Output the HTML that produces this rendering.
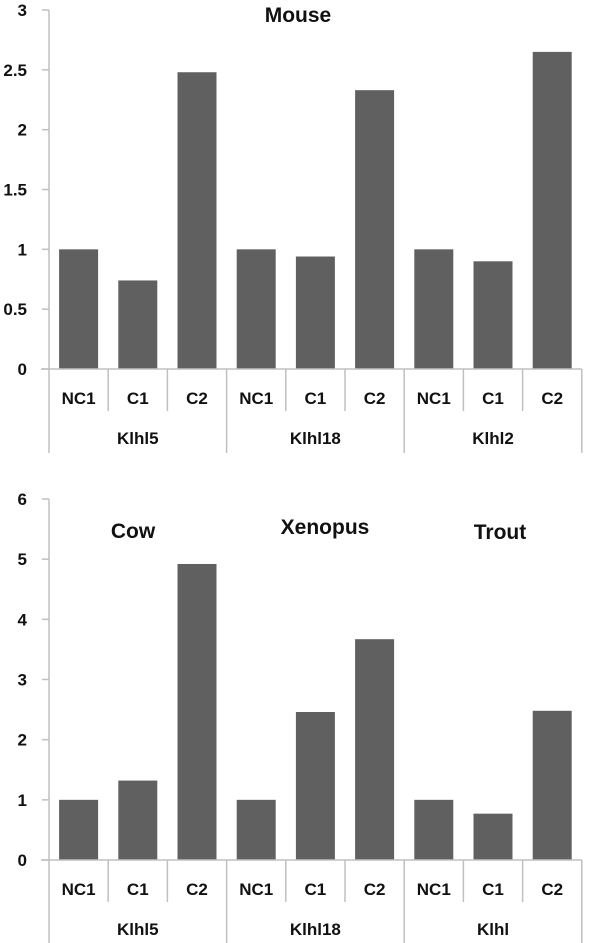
<!DOCTYPE html>
<html><head><meta charset="utf-8"><style>
html,body{margin:0;padding:0;background:#fff;width:600px;height:943px;overflow:hidden}
svg{display:block}
text{font-family:"Liberation Sans",sans-serif;font-weight:bold;fill:#111}
</style></head><body>
<svg id="chart" width="600" height="943" xmlns="http://www.w3.org/2000/svg"></svg>
<script>
const categories = ["NC1","C1","C2","NC1","C1","C2","NC1","C1","C2"];
const topGroups = ["Klhl5","Klhl18","Klhl2"];
const bottomGroups = ["Klhl5","Klhl18","Klhl"];
const mouseValues = [1,0.74,2.48,1,0.94,2.33,1,0.9,2.65];
const bottomValues = [1,1.32,4.92,1,2.46,3.67,1,0.77,2.48];
const topTicks = ["0","0.5","1","1.5","2","2.5","3"];
const bottomTicks = ["0","1","2","3","4","5","6"];
const topTitles = ["Mouse"];
const bottomTitles = ["Cow","Xenopus","Trout"];

const svg = document.getElementById('chart');
const NS = "http://www.w3.org/2000/svg";
function mk(tag, attrs, parent){const e=document.createElementNS(NS,tag);for(const k in attrs)e.setAttribute(k,attrs[k]);(parent||svg).appendChild(e);return e;}

function drawPanel(prefix, values, ticks, groups, zeroY, topY, maxV){
  const g = mk('g',{});
  
  
  const x0=49, cw=59.2, bw=39;
  const y = v => zeroY - (v/maxV)*(zeroY-topY);
  const xc = i => x0 + cw*i + cw/2;
  const ax = mk('line',{x1:x0,y1:topY,x2:x0,y2:zeroY,stroke:'#c0c0c0','stroke-width':1.5},g);
  
  
  ticks.forEach((t,i)=>{
    const v = maxV*i/(ticks.length-1);
    const yy = y(v);
    mk('line',{x1:x0-7,y1:yy,x2:x0,y2:yy,stroke:'#c0c0c0','stroke-width':1.5},g);
    const tx = mk('text',{x:x0-22,y:yy+6,'text-anchor':'end','font-size':17},g);
    tx.textContent=t;
    
    
  });
  values.forEach((v,i)=>{
    const r = mk('rect',{x:xc(i)-bw/2,y:y(v),width:bw,height:zeroY-y(v),fill:'#606060'},g);
    
    
  });
  const xa = mk('line',{x1:x0-8,y1:zeroY,x2:x0+cw*9,y2:zeroY,stroke:'#c0c0c0','stroke-width':1.5},g);
  
  
  for(let i=0;i<=9;i++){
    const xx = x0+cw*i;
    const bottom = (i%3===0)? zeroY+84 : zeroY+42;
    mk('line',{x1:xx,y1:zeroY,x2:xx,y2:bottom,stroke:'#c0c0c0','stroke-width':1.5},g);
  }
  categories.forEach((c,i)=>{
    const t = mk('text',{x:xc(i),y:zeroY+35,'text-anchor':'middle','font-size':17},g);
    t.textContent=c;
    
    
  });
  groups.forEach((gname,i)=>{
    const t = mk('text',{x:x0+cw*(3*i+1.5),y:zeroY+75,'text-anchor':'middle','font-size':17},g);
    t.textContent=gname;
    
    
  });
}
drawPanel('top', mouseValues, topTicks, topGroups, 369, 10, 3);
drawPanel('bottom', bottomValues, bottomTicks, bottomGroups, 860, 499, 6);

const titlePos = [[298,22]];
topTitles.forEach((s,i)=>{
  const t = mk('text',{x:titlePos[i][0],y:titlePos[i][1],'text-anchor':'middle','font-size':21});
  t.textContent=s;
  
  
});
const bPos=[[133,538],[325,534],[500,539]];
bottomTitles.forEach((s,i)=>{
  const t = mk('text',{x:bPos[i][0],y:bPos[i][1],'text-anchor':'middle','font-size':21});
  t.textContent=s;
  
  
});
</script>
</body></html>
